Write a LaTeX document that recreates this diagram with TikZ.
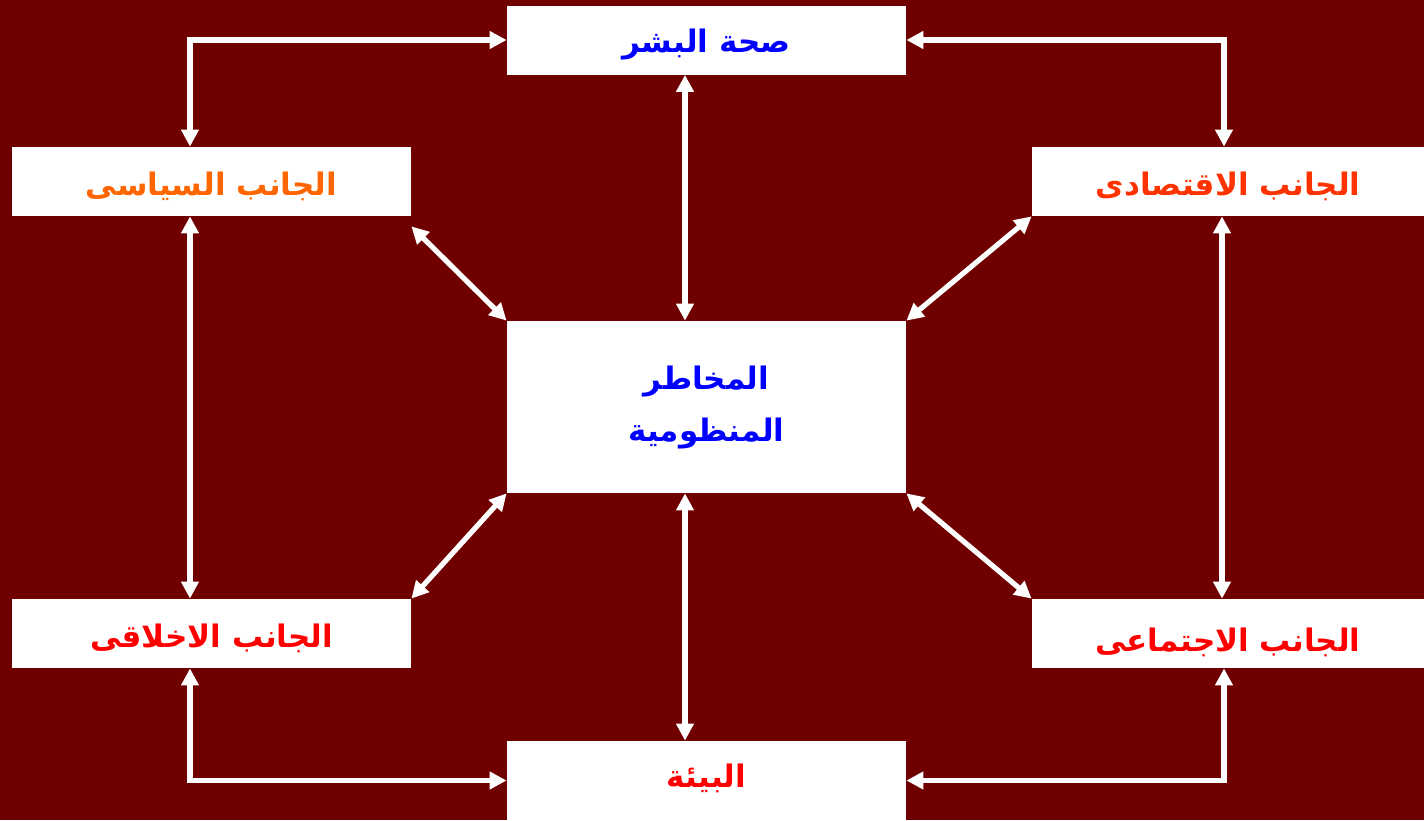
\documentclass[tikz,border=0pt]{standalone}
\usepackage{fontspec}
\newfontfamily\arabicfont[Script=Arabic]{DejaVu Sans}
\TeXXeTstate=1
\usetikzlibrary{arrows.meta}
\definecolor{bgred}{HTML}{700000}
\definecolor{tblue}{HTML}{0000FF}
\definecolor{torange}{HTML}{FF6600}
\definecolor{tred}{HTML}{FF0000}
\definecolor{tredorange}{HTML}{FF3300}
\tikzset{
  box/.style={fill=white, draw=none, inner sep=0pt, font=\arabicfont\bfseries\fontsize{15.5}{26}\selectfont, align=center},
  wbox/.style={box, minimum width=199.5pt, minimum height=34.5pt},
  rbox/.style={box, minimum width=196pt, minimum height=34.5pt},
  arr/.style={draw=white, line width=2.6pt, {Triangle[length=8.5pt,width=8.5pt]}-{Triangle[length=8.5pt,width=8.5pt]}}
}
\newcommand{\ar}[2][-2.5pt]{\raisebox{#1}[\height][\depth]{\beginR #2\endR}}
\begin{document}
\begin{tikzpicture}[x=0.5pt,y=-0.5pt]
\fill[bgred] (0,0) rectangle (1424,820);
\useasboundingbox (0,0) rectangle (1424,820);
\node[wbox, text=tblue] (hea) at (706.5,40) {\ar{صحة البشر}};
\node[wbox, text=torange] (pol) at (211.5,181.5) {\ar{الجانب السياسى}};
\node[rbox, text=tredorange] (eco) at (1228,181.5) {\ar{الجانب الاقتصادى}};
\node[box, text=tblue, minimum width=199.5pt, minimum height=86pt] (risk) at (706.5,407) {\beginR المخاطر\endR\\\beginR المنظومية\endR};
\node[wbox, text=tred] (eth) at (211.5,633.5) {\ar{الجانب الاخلاقى}};
\node[rbox, text=tred] (soc) at (1228,633.5) {\ar[-4.5pt]{الجانب الاجتماعى}};
\node[box, text=tred, minimum width=199.5pt, minimum height=39.5pt] (env) at (706.5,780.5) {\ar[1pt]{البيئة}};
% elbows
\draw[arr] (hea.west) -| ([xshift=-10.75pt]pol.north);
\draw[arr] (hea.east) -| ([xshift=-2pt]eco.north);
\draw[arr] ([xshift=-10.75pt]eth.south) |- (env.west);
\draw[arr] ([xshift=-2pt]soc.south) |- (env.east);
% verticals
\draw[arr] ([xshift=-10.75pt]hea.south) -- ([xshift=-10.75pt]risk.north);
\draw[arr] ([xshift=-10.75pt]risk.south) -- ([xshift=-10.75pt]env.north);
\draw[arr] ([xshift=-10.75pt]pol.south) -- ([xshift=-10.75pt]eth.north);
\draw[arr] ([xshift=-3pt]eco.south) -- ([xshift=-3pt]soc.north);
% diagonals
\draw[arr] ([yshift=-5pt]pol.south east) -- (risk.north west);
\draw[arr] (eco.south west) -- (risk.north east);
\draw[arr] (risk.south west) -- (eth.north east);
\draw[arr] (risk.south east) -- (soc.north west);
\end{tikzpicture}
\end{document}
